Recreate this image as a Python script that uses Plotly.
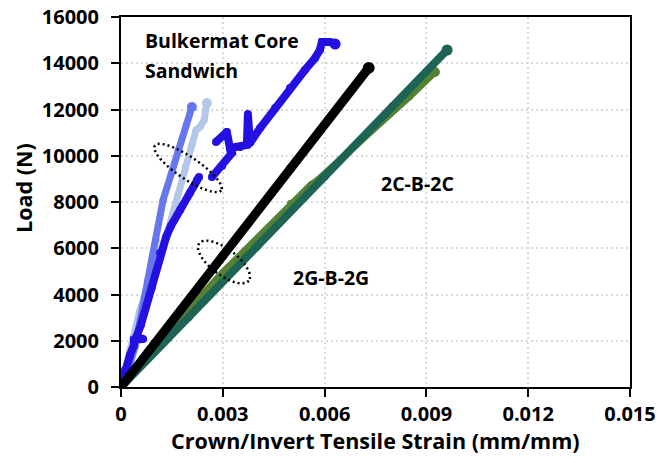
import numpy as np
import plotly.graph_objects as go

# ---------------- data (strain mm/mm, load N) ----------------
dark_blue_x = [0, 0.000118, 0.000265, 0.000383, 0.000383, 0.00065, 0.00045, 0.00059, 0.000914, 0.00115, 0.00133, 0.00147,
               0.00174, 0.00203, 0.00224, 0.0023, None,
               0.00268, 0.00298, 0.00327, 0.00321, 0.00312, 0.0028, 0.00312, 0.00321, 0.00351, 0.00371, 0.00374, 0.0038,
               0.0041, 0.00454, 0.00498, 0.00542, 0.00572, 0.00586, 0.00592, 0.00616, 0.00631]
dark_blue_y = [0, 735, 1384, 1816, 2030, 2080, 2160, 2700, 4324, 5795, 6486, 6962,
               7654, 8389, 8951, 9081, None,
               9081, 9557, 10119, 10335, 11027, 10595, 11027, 10335, 10378, 10465, 11805, 10551,
               11200, 12065, 12930, 13708, 14227, 14573, 14919, 14919, 14832]

med_blue_x = [0, 0.000206, 0.000413, 0.000796, 0.00103, 0.00124, 0.00147, 0.00168, 0.00192, 0.00209]
med_blue_y = [0, 735, 1730, 4627, 6357, 8086, 9168, 10249, 11330, 12108]

light_blue_x = [0, 0.000265, 0.00056, 0.001, 0.00139, 0.00168, 0.00189, 0.00209, 0.00221, 0.00233, 0.00245, 0.00253]
light_blue_y = [0, 1600, 3330, 5276, 6789, 8303, 9514, 10465, 11113, 11243, 11546, 12281]

black_x = [0, 0.001, 0.003, 0.005, 0.0073]
black_y = [0, 1890, 5670, 9450, 13800]

olive_x = [0, 0.001, 0.003, 0.005, 0.0056, 0.0058, 0.007, 0.0077, 0.0085, 0.00925]
olive_y = [0, 1750, 4950, 7950, 8750, 8950, 10600, 11500, 12550, 13620]

teal_x = [0, 0.002, 0.004, 0.006, 0.008, 0.00961]
teal_y = [0, 3030, 6060, 9100, 12130, 14573]

x_ticks = [0, 0.003, 0.006, 0.009, 0.012, 0.015]
x_tick_text = ["0", "0.003", "0.006", "0.009", "0.012", "0.015"]
y_ticks = [0, 2000, 4000, 6000, 8000, 10000, 12000, 14000, 16000]

FONT = "Open Sans"

fig = go.Figure()

series = [
    (olive_x, olive_y, "#548235", 7),
    (teal_x, teal_y, "#1E6454", 8),
    (light_blue_x, light_blue_y, "#B4C7E7", 7),
    (med_blue_x, med_blue_y, "#6677EE", 7),
    (dark_blue_x, dark_blue_y, "#2410E0", 8),
    (black_x, black_y, "#000000", 9),
]
for xs, ys, col, w in series:
    fig.add_trace(go.Scatter(x=xs, y=ys, mode="lines+markers",
                             line=dict(color=col, width=w),
                             marker=dict(color=col, size=w, line=dict(width=0)),
                             connectgaps=False, hoverinfo="skip", showlegend=False))
    # end blob
    fig.add_trace(go.Scatter(x=[xs[-1]], y=[ys[-1]], mode="markers",
                             marker=dict(color=col, size=w + 3, line=dict(width=0)),
                             hoverinfo="skip", showlegend=False))

# plot area in pixels
L, R, T, B = 121, 630, 17, 387
W, H = 660, 463


def ellipse_path(cx, cy, a, b, ang, n=72):
    t = np.linspace(0, 2 * np.pi, n, endpoint=False)
    ca, sa = np.cos(np.radians(ang)), np.sin(np.radians(ang))
    px = cx + a * np.cos(t) * ca - b * np.sin(t) * sa
    py = cy + a * np.cos(t) * sa + b * np.sin(t) * ca
    xs = (px - L) / (R - L)
    ys = (B - py) / (B - T)
    pts = [f"{x:.4f},{y:.4f}" for x, y in zip(xs, ys)]
    return "M " + " L ".join(pts) + " Z"


for cx, cy, a, b, ang in [(188, 168, 40, 11, 34), (224, 262, 31, 13, 37)]:
    fig.add_shape(type="path", xref="paper", yref="paper",
                  path=ellipse_path(cx, cy, a, b, ang),
                  line=dict(color="black", width=2.5, dash="2px,3px"))


def px2paper(px, py):
    return (px - L) / (R - L), (B - py) / (B - T)


tfont = dict(family=FONT, size=19.5, color="black", weight="bold")
for text, px, py, anchor in [("Bulkermat Core", 143, 40, "left"), ("Sandwich", 143, 70, "left"),
                             ("2C-B-2C", 417, 183, "center"), ("2G-B-2G", 331, 277, "center")]:
    ax, ay = px2paper(px, py)
    fig.add_annotation(x=ax, y=ay, xref="paper", yref="paper", text=text, showarrow=False,
                       xanchor=anchor, yanchor="middle", font=tfont)

# axis titles
ax, ay = px2paper(375, 440)
fig.add_annotation(x=ax, y=ay, xref="paper", yref="paper", text="Crown/Invert Tensile Strain (mm/mm)",
                   showarrow=False, xanchor="center", yanchor="middle", borderpad=0,
                   font=dict(family=FONT, size=21.5, color="black", weight="bold"))
ax, ay = px2paper(23, 188)
fig.add_annotation(x=ax, y=ay, xref="paper", yref="paper", text="Load (N)",
                   showarrow=False, textangle=-90, xanchor="center", yanchor="middle",
                   font=dict(family=FONT, size=21.5, color="black", weight="bold"))

grid = dict(showgrid=True, gridcolor="#D9D9D9", gridwidth=2, griddash="2px,3px",
            zeroline=False, showline=True, linecolor="black", linewidth=2, mirror=True,
            ticks="outside", ticklen=8, tickwidth=2, tickcolor="black",
            tickfont=dict(family=FONT, size=20, color="black", weight="bold"))

fig.update_xaxes(range=[0, 0.015], tickvals=x_ticks, ticktext=x_tick_text, ticklabelstandoff=0, **grid)
fig.update_yaxes(range=[0, 16000], tickvals=y_ticks, tickformat="d", ticklabelstandoff=8, **grid)

fig.update_layout(width=W, height=H, margin=dict(l=L, r=W - R, t=T, b=H - B, autoexpand=False),
                  plot_bgcolor="white", paper_bgcolor="white")

fig.write_html("out.html")
